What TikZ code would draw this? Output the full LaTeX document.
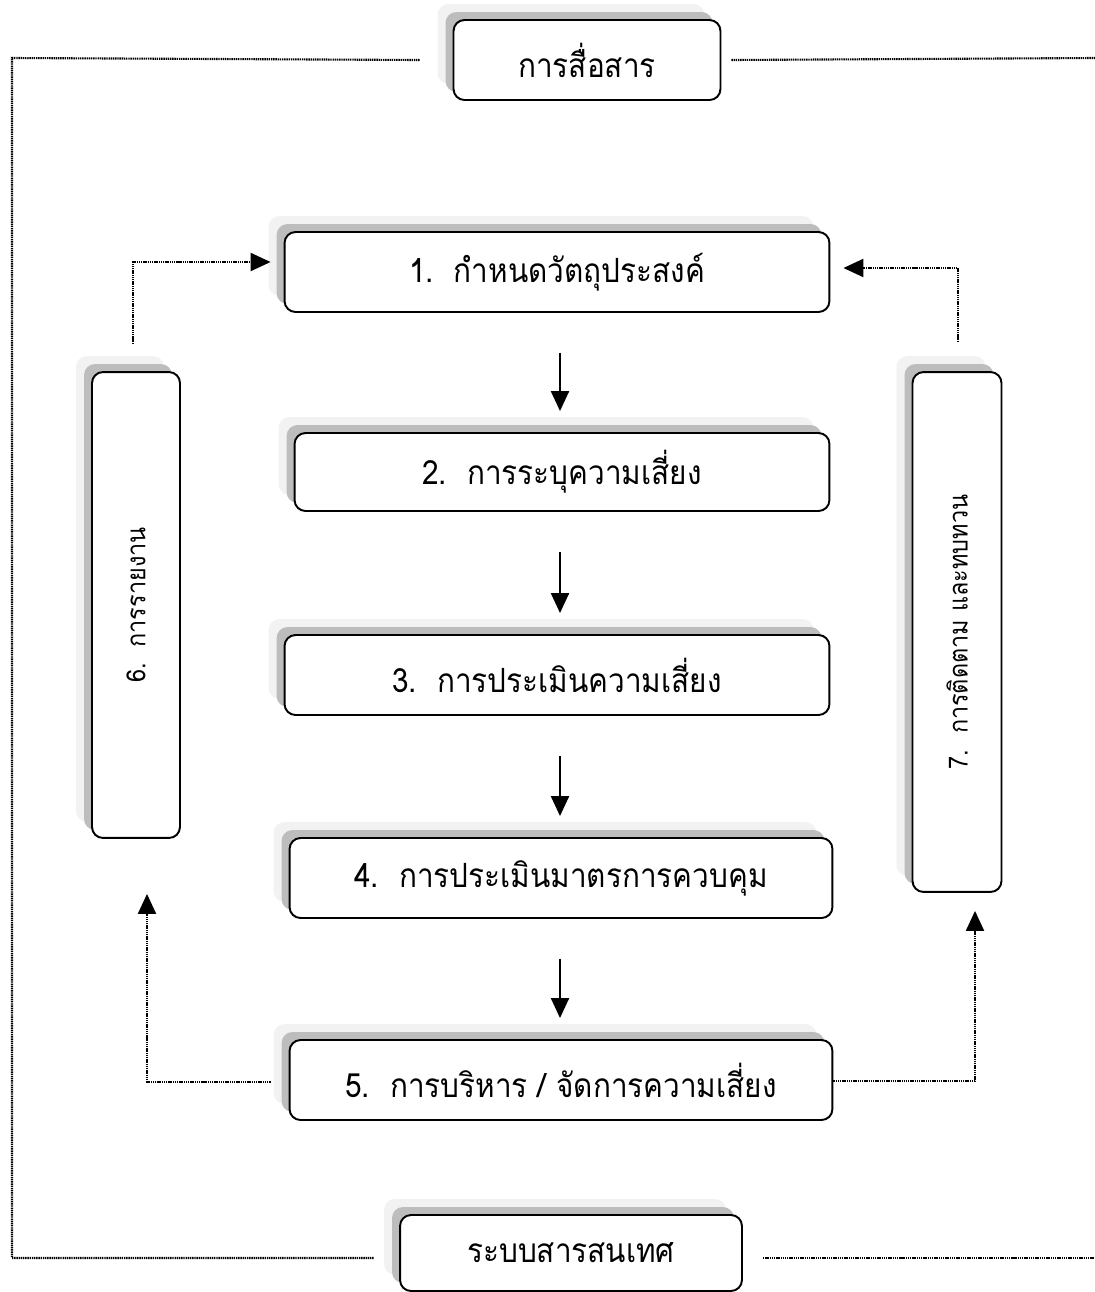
\documentclass[tikz,border=0pt]{standalone}
\usepackage{fontspec}
\newfontfamily\thaifont[Script=Thai]{Loma}
\usetikzlibrary{arrows.meta,shadows}
\definecolor{shadelight}{HTML}{F2F2F2}
\definecolor{shadedark}{HTML}{BDBDBD}
\newcommand{\narrow}[1]{\scalebox{0.89}[1]{#1}}
\begin{document}
\begin{tikzpicture}[x=0.02cm, y=-0.02cm,
  txt/.style={font=\thaifont\fontsize{19}{23}\selectfont},
  vtxt/.style={font=\thaifont\fontsize{15}{18}\selectfont, rotate=90},
  box/.style={txt, draw, line width=1.1pt, rounded corners=0.22cm, fill=white, align=center, inner sep=0pt,
    copy shadow={shadow xshift=-0.32cm, shadow yshift=0.32cm, fill=shadelight, draw=none},
    copy shadow={shadow xshift=-0.16cm, shadow yshift=0.16cm, fill=shadedark, draw=none}},
  flow/.style={line width=1.3pt, -{Triangle[width=0.36cm,length=0.4cm]}, shorten <=0.8cm, shorten >=0.42cm},
  link/.style={line width=1.2pt, dash pattern=on 0.8pt off 0.45pt},
  linkarrow/.style={link, -{Triangle[width=0.36cm,length=0.4cm]}}]
  \useasboundingbox (0,0) rectangle (1095,1292);

  % outer boxes
  \node[box, minimum width=5.34cm, minimum height=1.6cm] (comm) at (587,60) {\narrow{การสื่อสาร}};
  \node[box, minimum width=6.84cm, minimum height=1.52cm] (info) at (571,1253) {\narrow{ระบบสารสนเทศ}};

  % steps
  \node[box, minimum width=10.9cm, minimum height=1.6cm] (b1) at (557,272) {\narrow{1.\ \ กำหนดวัตถุประสงค์}};
  \node[box, minimum width=10.7cm, minimum height=1.56cm] (b2) at (562,472) {\narrow{2.\ \ การระบุความเสี่ยง}};
  \node[box, minimum width=10.9cm, minimum height=1.6cm] (b3) at (557,675) {\narrow{3.\ \ การประเมินความเสี่ยง}};
  \node[box, minimum width=10.86cm, minimum height=1.6cm] (b4) at (561,878) {\narrow{4.\ \ การประเมินมาตรการควบคุม}};
  \node[box, minimum width=10.86cm, minimum height=1.6cm] (b5) at (561,1080) {\narrow{5.\ \ การบริหาร / จัดการความเสี่ยง}};
  \node[box, minimum width=1.76cm, minimum height=9.32cm,
    label={[vtxt]center:\narrow{6.\ \ การรายงาน}}] (b6) at (136,605) {};
  \node[box, minimum width=1.78cm, minimum height=10.4cm,
    label={[vtxt]center:\narrow{7.\ \ การติดตาม และทบทวน}}] (b7) at (957,632) {};

  \coordinate (axis) at (560,0);
  \foreach \a/\b in {b1/b2, b2/b3, b3/b4, b4/b5}
    \draw[flow] (\a.south -| axis) -- (\b.north -| axis);

  % corners of the frame and elbows
  \coordinate (tl) at (12,58);
  \coordinate (tr) at (1095,58);
  \coordinate (bl) at (12,1258);
  \coordinate (br) at (1095,1258);
  \coordinate (up6) at (133,262);
  \coordinate (up7) at (958,268);
  \coordinate (lo6) at (147,1082);
  \coordinate (lo7) at (975,1081);

  \draw[link] ([xshift=-0.66cm]comm.west) -- (tl) -- (bl) -- ([xshift=-0.5cm]info.west |- bl);
  \draw[link] ([xshift=0.2cm]comm.east) -- (tr);
  \draw[link] ([xshift=0.4cm]info.east |- br) -- (br);

  \draw[linkarrow, shorten <=0.54cm, shorten >=0.26cm] (b6.north -| up6) -- (up6) -- (up6 -| b1.west);
  \draw[linkarrow, shorten <=0.58cm, shorten >=0.26cm] (b7.north -| up7) -- (up7) -- (up7 -| b1.east);
  \draw[linkarrow, shorten <=0.36cm, shorten >=1.1cm] (b5.west |- lo6) -- (lo6) -- (lo6 |- b6.south);
  \draw[linkarrow, shorten >=0.36cm] (b5.east |- lo7) -- (lo7) -- (lo7 |- b7.south);
\end{tikzpicture}
\end{document}
